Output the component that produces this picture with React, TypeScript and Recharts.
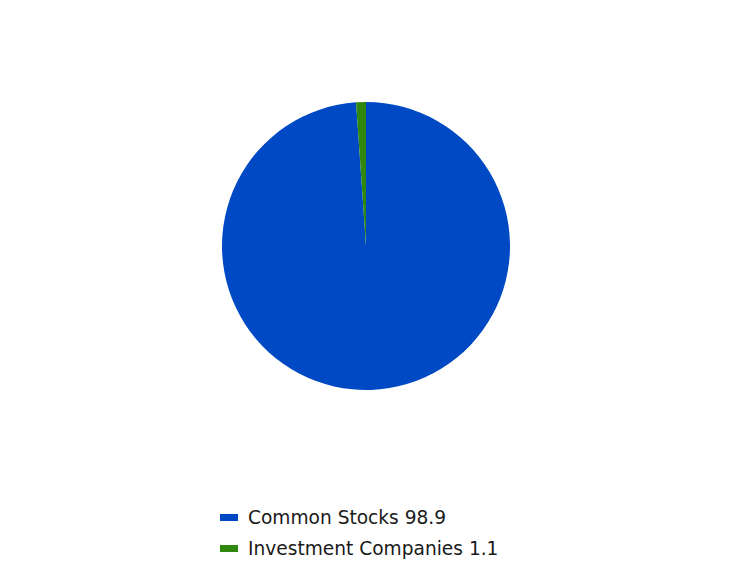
import React from "react";
import { PieChart, Pie, Cell, Legend } from "recharts";

const categories = ["Common Stocks", "Investment Companies"];
const values = [98.9, 1.1];
const colors = ["#0049C4", "#2F870E"];

const data = categories.map((name, i) => ({ name, value: values[i] }));

const renderLegend = (props: any) => {
  const { payload } = props;
  return (
    <div style={{ fontFamily: "DejaVu Sans", fontSize: 18.6, color: "#1a1a1a" }}>
      {payload.map((entry: any, i: number) => (
        <div key={i} style={{ display: "flex", alignItems: "center", height: 31 }}>
          <span
            style={{
              display: "inline-block",
              width: 18,
              height: 7,
              background: entry.color,
              marginRight: 10,
            }}
          />
          <span>{`${entry.value} ${data[i].value}`}</span>
        </div>
      ))}
    </div>
  );
};

export default function App() {
  return (
    <div style={{ position: "absolute", left: 0, top: 0, width: 732, height: 564 }}>
      <PieChart width={732} height={564} margin={{ top: 0, right: 0, bottom: 0, left: 0 }}>
        <Pie
          data={data}
          dataKey="value"
          nameKey="name"
          cx={366}
          cy={246}
          outerRadius={144}
          startAngle={90}
          endAngle={-270}
          stroke="none"
          isAnimationActive={false}
        >
          {data.map((_, i) => (
            <Cell key={i} fill={colors[i]} />
          ))}
        </Pie>
        <Legend
          content={renderLegend}
          layout="vertical"
          wrapperStyle={{ left: 220, top: 502, width: 400 }}
        />
      </PieChart>
    </div>
  );
}
